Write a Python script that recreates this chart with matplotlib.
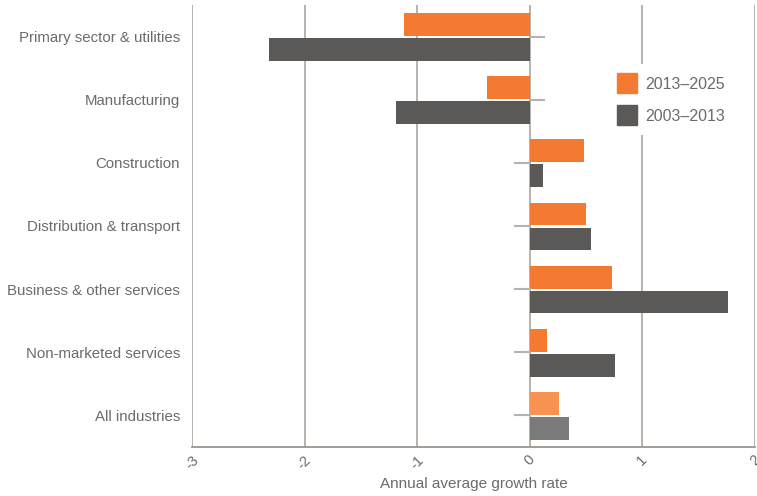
import numpy as np
import matplotlib.pyplot as plt
from matplotlib.patches import Patch

categories = [
    "Primary sector & utilities",
    "Manufacturing",
    "Construction",
    "Distribution & transport",
    "Business & other services",
    "Non-marketed services",
    "All industries",
]
growth_2013_2025 = [-1.12, -0.38, 0.48, 0.50, 0.73, 0.15, 0.26]
growth_2003_2013 = [-2.32, -1.19, 0.12, 0.54, 1.76, 0.76, 0.35]
x_ticks = [-3, -2, -1, 0, 1, 2]

orange = "#F47A31"
dark = "#5B5957"
orange_light = "#F79252"
dark_light = "#7A7A7A"
grid_col = "#B3ACA7"
text_col = "#6B6B6B"

plt.rcParams["font.family"] = ["Liberation Sans", "DejaVu Sans"]

fig = plt.figure(figsize=(7.57, 4.96), dpi=100)
ax = fig.add_axes([192 / 757, 1 - 447 / 496, 563 / 757, 442 / 496])

y = np.arange(len(categories))
h = 0.36
c1 = [orange] * (len(categories) - 1) + [orange_light]
c2 = [dark] * (len(categories) - 1) + [dark_light]

for xv in x_ticks:
    ax.axvline(xv, color=grid_col, lw=1.3, zorder=1)

ax.barh(y - 0.19, growth_2013_2025, height=h, color=c1, zorder=2)
ax.barh(y + 0.205, growth_2003_2013, height=h, color=c2, zorder=2)

# small category ticks on the zero line, pointing away from the bars
for yi, v in zip(y, growth_2003_2013):
    x_end = 0.13 if v < 0 else -0.13
    ax.plot([0, x_end], [yi, yi], color="#B8B2AD", lw=1.5, zorder=3)

ax.set_xlim(-3, 2)
ax.set_ylim(6.5, -0.5)
ax.set_yticks(y)
ax.set_yticklabels(categories, fontsize=10.8, color=text_col)
ax.set_xticks(x_ticks)
ax.set_xticklabels([str(t) for t in x_ticks], rotation=45, fontsize=10.5,
                   color=text_col, ha="center")
ax.tick_params(axis="y", length=0, pad=8.5)
ax.tick_params(axis="x", length=0, pad=4)
ax.set_xlabel("Annual average growth rate", fontsize=11, color=text_col,
              labelpad=4)

for side in ["top", "left", "right"]:
    ax.spines[side].set_visible(False)
ax.spines["bottom"].set_color("#9C948F")
ax.spines["bottom"].set_linewidth(1.3)

handles = [Patch(color=orange), Patch(color=dark)]
leg = ax.legend(handles, ["2013\u20132025", "2003\u20132013"],
                loc="upper left", bbox_to_anchor=(0.724, 0.885),
                frameon=True, fontsize=11.5, handlelength=1.25,
                handleheight=1.55, handletextpad=0.5, labelspacing=0.75,
                borderpad=0.6)
leg.get_frame().set_facecolor("white")
leg.get_frame().set_edgecolor("none")
leg.get_frame().set_alpha(1)
for t in leg.get_texts():
    t.set_color(text_col)

fig.savefig("out.png", dpi=100)
